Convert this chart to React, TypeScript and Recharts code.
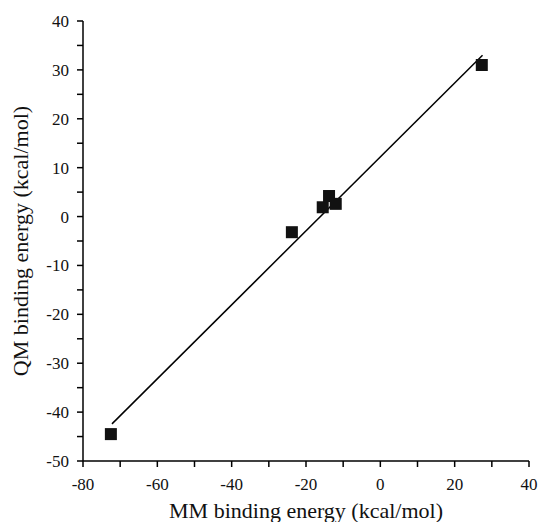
import React from 'react'
import {
  ReferenceLine,
  Scatter,
  ScatterChart,
  XAxis,
  YAxis,
} from 'recharts'

// measured points (kcal/mol)
const mmEnergy = [-72.5, -23.8, -15.5, -13.8, -12, 27.3]
const qmEnergy = [-44.5, -3.2, 1.9, 4.2, 2.6, 31]

// fitted line end points
const fitMM = [-72.2, 27.5]
const fitQM = [-42.4, 33]

const xTicks = [-80, -70, -60, -50, -40, -30, -20, -10, 0, 10, 20, 30, 40]
const yTicks = [-50, -45, -40, -35, -30, -25, -20, -15, -10, -5, 0, 5, 10, 15, 20, 25, 30, 35, 40]

const points = mmEnergy.map((mm, i) => ({ mm, qm: qmEnergy[i] }))

const font = "'Liberation Serif', 'Times New Roman', serif"

const Square = (props: any) => {
  const { cx, cy } = props
  if (cx == null || cy == null) return null
  return <rect x={cx - 6} y={cy - 6} width={12} height={12} fill="#111" />
}

const XTick = (props: any) => {
  const { x, y, payload } = props
  if (payload.value % 20 !== 0) return null
  return (
    <text x={x} y={y} dy="0.71em" textAnchor="middle" fill="#111" fontSize={17} fontFamily={font}>
      {payload.value}
    </text>
  )
}

const YTick = (props: any) => {
  const { x, y, payload } = props
  if (payload.value % 10 !== 0) return null
  return (
    <text x={x} y={y} dy="0.355em" textAnchor="end" fill="#111" fontSize={17} fontFamily={font}>
      {payload.value}
    </text>
  )
}

const App = () => (
  <div style={{ position: 'absolute', left: 0, top: 0, background: '#fff', fontFamily: font }}>
    <ScatterChart
      width={540}
      height={522}
      margin={{ top: 21, right: 11, left: 0, bottom: 4 }}
    >
      <XAxis
        type="number"
        dataKey="mm"
        domain={[-80, 40]}
        ticks={xTicks}
        interval={0}
        height={57}
        stroke="#000"
        strokeWidth={1.5}
        tickSize={6}
        tickMargin={11}
        tick={<XTick />}
        label={{
          value: 'MM binding energy (kcal/mol)',
          position: 'insideBottom',
          offset: 0,
          style: { fill: '#111', fontSize: 22, fontFamily: font },
        }}
      />
      <YAxis
        type="number"
        dataKey="qm"
        domain={[-50, 40]}
        ticks={yTicks}
        interval={0}
        width={83}
        stroke="#000"
        strokeWidth={1.5}
        tickSize={6}
        tickMargin={8}
        tick={<YTick />}
        label={{
          value: 'QM binding energy (kcal/mol)',
          angle: -90,
          position: 'insideLeft',
          offset: 20,
          style: { textAnchor: 'middle', fill: '#111', fontSize: 22, fontFamily: font },
        }}
      />
      <ReferenceLine
        segment={[
          { x: fitMM[0], y: fitQM[0] },
          { x: fitMM[1], y: fitQM[1] },
        ]}
        stroke="#000"
        strokeWidth={1.5}
      />
      <Scatter data={points} shape={Square} isAnimationActive={false} />
    </ScatterChart>
  </div>
)

export default App
